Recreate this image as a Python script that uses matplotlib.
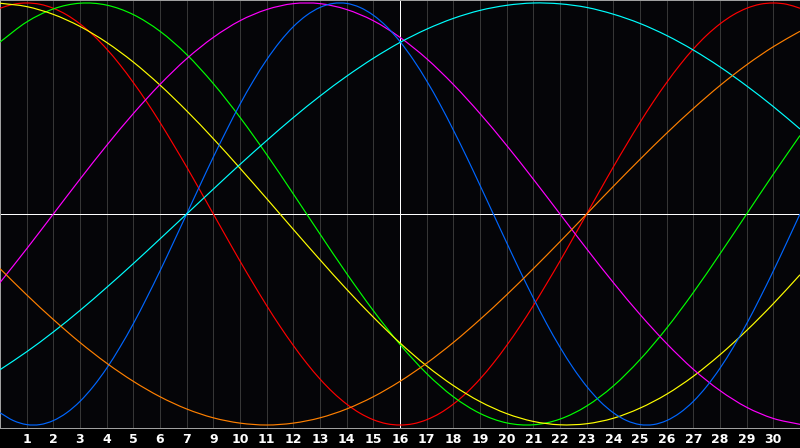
import numpy as np
import matplotlib
matplotlib.use("Agg")
import matplotlib.pyplot as plt
from matplotlib.path import Path
from matplotlib.patches import PathPatch

# x positions (day index from the left edge)
days = list(range(31))
half_days = [k / 2 for k in range(61)]

# day labels under the grid lines (8 is missing in the original)
day_labels = ["1", "2", "3", "4", "5", "6", "7", "9", "10", "11", "12", "13", "14", "15",
              "16", "17", "18", "19", "20", "21", "22", "23", "24", "25", "26", "27",
              "28", "29", "30"]

# cycle values (-1 .. 1)
blue = [-0.942, -0.979, -0.998, -0.998, -0.979, -0.942, -0.888, -0.817, -0.731, -0.631,
        -0.520, -0.398, -0.270, -0.136, 0.000, 0.136, 0.270, 0.398, 0.520, 0.631,
        0.731, 0.817, 0.888, 0.942, 0.979, 0.998, 0.998, 0.979, 0.942, 0.888,
        0.817, 0.731, 0.631, 0.520, 0.398, 0.270, 0.136, 0.000, -0.136, -0.270,
        -0.398, -0.520, -0.631, -0.731, -0.817, -0.888, -0.942, -0.979, -0.998, -0.998,
        -0.979, -0.942, -0.888, -0.817, -0.731, -0.631, -0.520, -0.398, -0.270, -0.136,
        0.000]
red = [0.975, 0.994, 1.000, 0.994, 0.975, 0.944, 0.901, 0.847, 0.782, 0.707,
       0.623, 0.532, 0.434, 0.330, 0.223, 0.112, 0.000, -0.112, -0.223, -0.330,
       -0.434, -0.532, -0.623, -0.707, -0.782, -0.847, -0.901, -0.944, -0.975, -0.994,
       -1.000, -0.994, -0.975, -0.944, -0.901, -0.847, -0.782, -0.707, -0.623, -0.532,
       -0.434, -0.330, -0.223, -0.112, 0.000, 0.112, 0.223, 0.330, 0.434, 0.532,
       0.623, 0.707, 0.782, 0.847, 0.901, 0.944, 0.975, 0.994, 1.000, 0.994,
       0.975]
green = [0.815, 0.910, 0.972, 0.999, 0.990, 0.945, 0.866, 0.756, 0.618, 0.458, 0.282,
         0.095, -0.095, -0.282, -0.458, -0.618, -0.756, -0.866, -0.945, -0.990, -0.999,
         -0.972, -0.910, -0.815, -0.690, -0.541, -0.372, -0.189, 0.000, 0.189, 0.372]
magenta = [-0.325, -0.165, 0.000, 0.165, 0.325, 0.476, 0.614, 0.736, 0.837, 0.916, 0.969,
           0.997, 0.997, 0.969, 0.916, 0.837, 0.736, 0.614, 0.476, 0.325, 0.165,
           0.000, -0.165, -0.325, -0.476, -0.614, -0.736, -0.837, -0.916, -0.969, -0.997]
yellow = [0.999, 0.983, 0.946, 0.889, 0.813, 0.720, 0.611, 0.489, 0.357, 0.217, 0.073,
          -0.073, -0.217, -0.357, -0.489, -0.611, -0.720, -0.813, -0.889, -0.946, -0.983,
          -0.999, -0.994, -0.968, -0.920, -0.854, -0.769, -0.667, -0.552, -0.425, -0.288]
orange = [-0.259, -0.383, -0.500, -0.609, -0.707, -0.793, -0.866, -0.924, -0.966, -0.991,
          -1.000, -0.991, -0.966, -0.924, -0.866, -0.793, -0.707, -0.609, -0.500, -0.383,
          -0.259, -0.131, 0.000, 0.131, 0.259, 0.383, 0.500, 0.609, 0.707, 0.793, 0.866]
cyan = [-0.738, -0.653, -0.559, -0.457, -0.348, -0.235, -0.118, 0.000, 0.118, 0.235,
        0.348, 0.457, 0.559, 0.653, 0.738, 0.813, 0.876, 0.927, 0.965, 0.989, 1.000,
        0.996, 0.979, 0.947, 0.903, 0.846, 0.777, 0.697, 0.607, 0.509, 0.403]

series = [
    (half_days, red, "#ff0000"),
    (days, green, "#00ff00"),
    (days, yellow, "#ffff00"),
    (days, magenta, "#ff00ff"),
    (half_days, blue, "#0066ff"),
    (days, cyan, "#00ffff"),
    (days, orange, "#ff8000"),
]


# smooth line through the points (catmull-rom drawn as bezier segments)
def smooth_path(x, y):
    pts = np.column_stack([x, y])
    ext = np.vstack([2 * pts[0] - pts[1], pts, 2 * pts[-1] - pts[-2]])
    verts = [pts[0]]
    codes = [Path.MOVETO]
    for i in range(len(pts) - 1):
        p0, p1, p2, p3 = ext[i], ext[i + 1], ext[i + 2], ext[i + 3]
        verts += [p1 + (p2 - p0) / 6, p2 - (p3 - p1) / 6, p2]
        codes += [Path.CURVE4] * 3
    return Path(verts, codes)


fig = plt.figure(figsize=(8, 4.48), dpi=100, facecolor="#000000")
ax = fig.add_axes([0, 20 / 448, 1, 428 / 448])
ax.set_facecolor("#050508")

ax.set_xlim(0, 30)
ax.set_ylim(-214 / 211, 214 / 211)

# grid
ax.set_xticks(range(1, 30))
ax.set_xticklabels(day_labels, color="white", fontsize=9, fontweight="bold")
ax.tick_params(axis="x", length=0, pad=3.5)
ax.set_yticks([])
ax.grid(axis="x", color="#363636", linewidth=0.72, antialiased=False)

ax.axvline(15, color="white", linewidth=0.72, antialiased=False, zorder=2)
ax.axhline(0, color="white", linewidth=0.72, antialiased=False, zorder=2)

for x, y, c in series:
    ax.add_patch(PathPatch(smooth_path(x, y), facecolor="none", edgecolor=c,
                           linewidth=0.85, zorder=3))

for side in ["top", "left", "bottom"]:
    ax.spines[side].set_color("#a0a0a0")
    ax.spines[side].set_linewidth(0.72)
ax.spines["right"].set_visible(False)

fig.savefig("out.png", dpi=100, facecolor=fig.get_facecolor())
